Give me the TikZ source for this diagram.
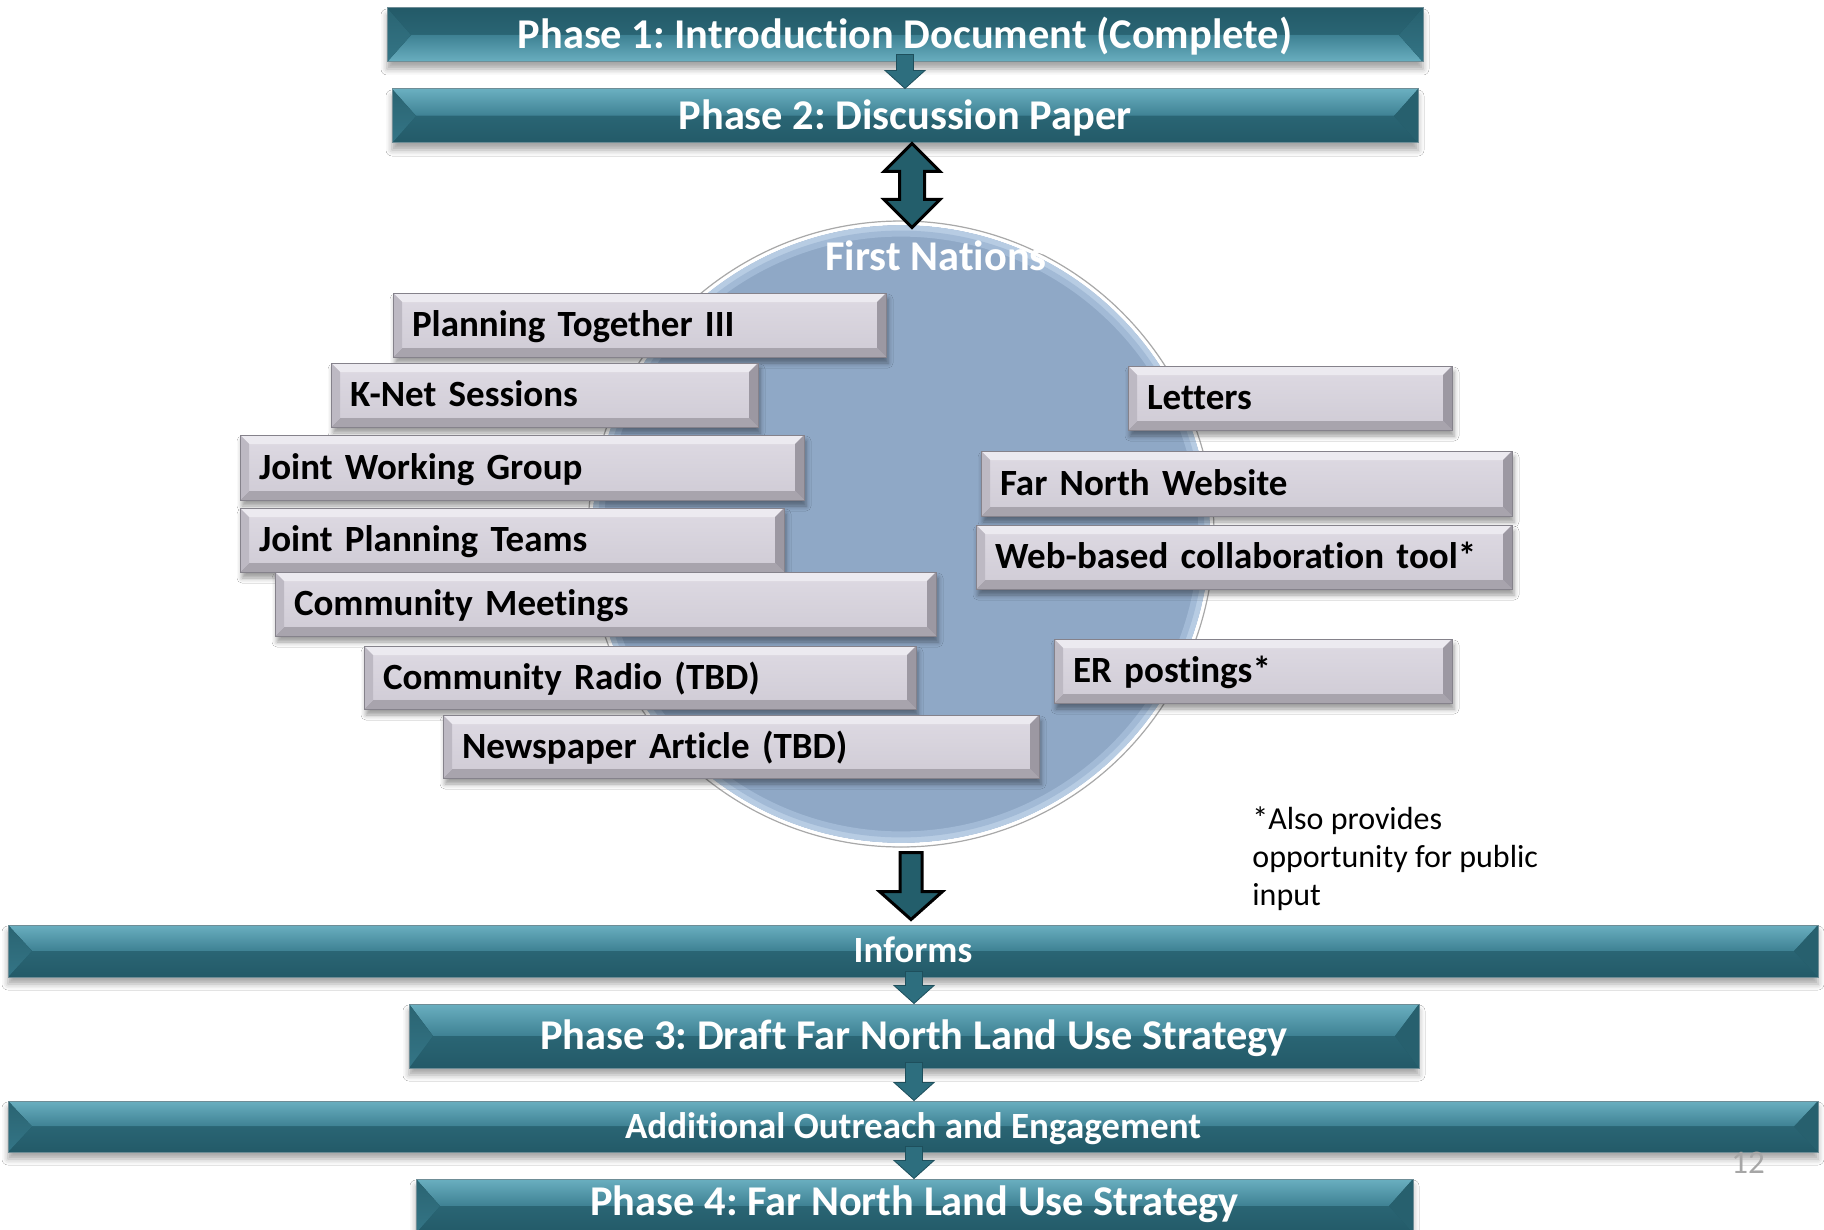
\documentclass[tikz,border=0pt]{standalone}
\usepackage{fontspec}
\setmainfont{Carlito}[Ligatures={NoCommon}]
\usetikzlibrary{calc,shadows.blur}
\frenchspacing
\definecolor{bnLight}{HTML}{6AAFC0}
\definecolor{bnMid}{HTML}{3E8193}
\definecolor{bnDark}{HTML}{235A68}
\definecolor{bnDark2}{HTML}{2A6574}
\definecolor{bnLeftTop}{HTML}{2A6472}
\definecolor{bnLeftBot}{HTML}{347586}
\definecolor{bnRight}{HTML}{27606E}
\definecolor{bnEdge}{HTML}{6F8D96}
\definecolor{gbFaceT}{HTML}{DEDAE3}
\definecolor{gbFaceB}{HTML}{CFCBD5}
\definecolor{gbTop}{HTML}{ECEAF0}
\definecolor{gbBot}{HTML}{A8A4AD}
\definecolor{gbLeft}{HTML}{BDB9C3}
\definecolor{gbRight}{HTML}{9C98A2}
\definecolor{gbEdge}{HTML}{85828B}
\definecolor{circMain}{HTML}{8FA8C6}
\definecolor{circLight}{HTML}{B7CCE3}
\definecolor{circMid}{HTML}{A2BAD6}
\definecolor{rimGray}{HTML}{A9A9A9}
\definecolor{arrowFill}{HTML}{235E6B}
\definecolor{smallArrow}{HTML}{2D6E7E}
\definecolor{smallArrowEdge}{HTML}{1E4F5C}
\definecolor{pageNum}{HTML}{A6A6A6}
\tikzset{
  phasefont/.style={font=\bfseries\frenchspacing\fontsize{21.2}{24}\selectfont, text height=16pt, text depth=2.35pt},
  midfont/.style={font=\bfseries\frenchspacing\fontsize{18.5}{20}\selectfont, text height=14pt, text depth=2.1pt},
  bannerbase/.style={rectangle, inner sep=0pt, text=white, fill=bnDark, draw=bnEdge, line width=0.5pt,
    blur shadow={shadow xshift=0pt, shadow yshift=-3.5pt, shadow blur radius=3pt, shadow opacity=35}},
  banner/.style={bannerbase, phasefont,
    path picture={
      \path (path picture bounding box.north west) coordinate (bNW)
            (path picture bounding box.north east) coordinate (bNE)
            (path picture bounding box.south west) coordinate (bSW)
            (path picture bounding box.south east) coordinate (bSE);
      \coordinate (bML) at ($(bNW)!.5!(bSW)+(12pt,0pt)$);
      \coordinate (bMR) at ($(bNE)!.5!(bSE)+(-12pt,0pt)$);
      \fill[top color=bnLight, bottom color=bnMid] (bNW) -- (bNE) -- (bMR) -- (bML) -- cycle;
      \fill[top color=bnDark2, bottom color=bnDark] (bSW) -- (bSE) -- (bMR) -- (bML) -- cycle;
      \fill[top color=bnLeftTop, bottom color=bnLeftBot] (bNW) -- (bML) -- (bSW) -- cycle;
      \fill[bnRight] (bNE) -- (bMR) -- (bSE) -- cycle;
    }},
  bannerF/.style={bannerbase, phasefont,
    path picture={
      \path (path picture bounding box.north west) coordinate (bNW)
            (path picture bounding box.north east) coordinate (bNE)
            (path picture bounding box.south west) coordinate (bSW)
            (path picture bounding box.south east) coordinate (bSE);
      \coordinate (bML) at ($(bNW)!.5!(bSW)+(12pt,0pt)$);
      \coordinate (bMR) at ($(bNE)!.5!(bSE)+(-12pt,0pt)$);
      \fill[top color=bnDark, bottom color=bnDark2] (bNW) -- (bNE) -- (bMR) -- (bML) -- cycle;
      \fill[top color=bnMid, bottom color=bnLight] (bSW) -- (bSE) -- (bMR) -- (bML) -- cycle;
      \fill[top color=bnLeftTop, bottom color=bnLeftBot] (bNW) -- (bML) -- (bSW) -- cycle;
      \fill[top color=bnRight, bottom color=bnLeftBot] (bNE) -- (bMR) -- (bSE) -- cycle;
    }},
  gbox/.style={rectangle, inner xsep=9.5pt, inner ysep=0pt, minimum height=32pt, align=left,
    text width=#1, midfont, text=black, top color=gbFaceT, bottom color=gbFaceB,
    draw=gbEdge, line width=0.5pt,
    blur shadow={shadow xshift=1pt, shadow yshift=-3pt, shadow blur radius=2.5pt, shadow opacity=40},
    path picture={
      \path (path picture bounding box.north west) coordinate (gNW)
            (path picture bounding box.north east) coordinate (gNE)
            (path picture bounding box.south west) coordinate (gSW)
            (path picture bounding box.south east) coordinate (gSE);
      \fill[gbTop] (gNW) -- (gNE) -- ($(gNE)+(-4.5pt,-4.5pt)$) -- ($(gNW)+(4.5pt,-4.5pt)$) -- cycle;
      \fill[gbBot] (gSW) -- (gSE) -- ($(gSE)+(-4.5pt,4.5pt)$) -- ($(gSW)+(4.5pt,4.5pt)$) -- cycle;
      \fill[gbLeft] (gNW) -- ($(gNW)+(4.5pt,-4.5pt)$) -- ($(gSW)+(4.5pt,4.5pt)$) -- (gSW) -- cycle;
      \fill[gbRight] (gNE) -- ($(gNE)+(-4.5pt,-4.5pt)$) -- ($(gSE)+(-4.5pt,4.5pt)$) -- (gSE) -- cycle;
    }},
  smallarrow/.style={fill=smallArrow, draw=smallArrowEdge, line width=0.4pt, line join=miter},
  blockarrow/.style={fill=arrowFill, draw=black, line width=1.5pt, line join=miter},
}
% small arrow: #1 upper start, #2 tip
\newcommand{\smallarr}[2]{%
  \path[smallarrow] let \p1=(#1), \p2=(#2) in
    (\x1-4.25pt,\y1) -- (\x1+4.25pt,\y1) -- (\x1+4.25pt,\y2+9pt) -- (\x1+10pt,\y2+9pt)
    -- (\x1,\y2) -- (\x1-10pt,\y2+9pt) -- (\x1-4.25pt,\y2+9pt) -- cycle;}
% double arrow: #1 top tip, #2 bottom tip
\newcommand{\dblarr}[2]{%
  \path[blockarrow] let \p1=(#1), \p2=(#2) in
    (\x1,\y1) -- (\x1+14pt,\y1-14pt) -- (\x1+6.25pt,\y1-14pt) -- (\x1+6.25pt,\y2+14pt)
    -- (\x1+14pt,\y2+14pt) -- (\x1,\y2) -- (\x1-14pt,\y2+14pt) -- (\x1-6.25pt,\y2+14pt)
    -- (\x1-6.25pt,\y1-14pt) -- (\x1-14pt,\y1-14pt) -- cycle;}
% block down arrow: #1 start, #2 tip
\newcommand{\downarr}[2]{%
  \path[blockarrow] let \p1=(#1), \p2=(#2) in
    (\x1-5.5pt,\y1) -- (\x1+5.5pt,\y1) -- (\x1+5.5pt,\y2+14pt) -- (\x1+15.75pt,\y2+14pt)
    -- (\x1,\y2) -- (\x1-15.75pt,\y2+14pt) -- (\x1-5.5pt,\y2+14pt) -- cycle;}
\begin{document}
\begin{tikzpicture}[x=0.5pt,y=-0.5pt]
\clip (0,0) rectangle (1824,1230);
\fill[white] (0,0) rectangle (1824,1230);

% circle
\node[circle, minimum size=313pt, inner sep=0pt, fill=circMain, draw=rimGray, line width=0.6pt,
  path picture={
    \draw[white, line width=2pt] (path picture bounding box.center) circle (155.4pt);
    \draw[circLight, line width=3pt] (path picture bounding box.center) circle (152.9pt);
    \draw[circMid, line width=3pt] (path picture bounding box.center) circle (150.2pt);
  }] (circ) at (901,534) {};
\node[phasefont, text=white] (fn) at (936,257) {First Nations};

% grey boxes
\node[gbox=227.5pt] (pt) at (639.5,325) {Planning Together III};
\node[gbox=194.5pt] (kn) at (544.5,395) {K-Net Sessions};
\node[gbox=263pt, minimum height=32.5pt] (jwg) at (522,467.5) {Joint Working Group};
\node[gbox=253pt] (jpt) at (512,540) {Joint Planning Teams};
\node[gbox=311.5pt] (cm) at (605.5,604) {Community Meetings};
\node[gbox=257pt, minimum height=31.5pt] (cr) at (640,677.5) {Community Radio (TBD)};
\node[gbox=279pt, minimum height=31.5pt] (na) at (741,746.5) {Newspaper Article (TBD)};
\node[gbox=143pt] (let) at (1290,398) {Letters};
\node[gbox=246.5pt, minimum height=32.5pt] (fnw) at (1246.5,483.5) {Far North Website};
\node[gbox=249pt] (web) at (1244,557) {Web-based collaboration tool*};
\node[gbox=180pt] (er) at (1253,671) {ER postings*};

% banners
\node[bannerF, minimum width=518pt, minimum height=27pt] (p1) at (905,35) {Phase 1: Introduction Document (Complete)};
\node[banner, minimum width=513pt, minimum height=27pt] (p2) at (905,116) {Phase 2: Discussion Paper};
\node[banner, midfont, minimum width=905pt, minimum height=26pt] (inf) at (913,951) {Informs};
\node[banner, minimum width=505pt, minimum height=32pt] (p3) at (914,1036) {Phase 3: Draft Far North Land Use Strategy};
\node[banner, midfont, minimum width=905pt, minimum height=25.5pt] (add) at (913,1126.5) {Additional Outreach and Engagement};
\node[banner, minimum width=498.5pt, minimum height=27pt, text depth=6.35pt] (p4) at (914.5,1206) {Phase 4: Far North Land Use Strategy};

% double arrow Phase 2 <-> First Nations
\dblarr{$(p2.south)+(7,0)$}{$(circ.north)+(11,7)$}

% small arrows between banners
\smallarr{$(p1.south)+(0,-8)$}{p2.north}
\smallarr{$(inf.south)+(1,-6)$}{p3.north}
\smallarr{$(p3.south)+(0,-6)$}{add.north}
\smallarr{$(add.south)+(1,-6)$}{p4.north}

% big down arrow
\downarr{$(circ.south)+(10,5)$}{$(inf.north)+(-2,-5)$}

% footnote
\node[anchor=north west, inner sep=0pt, align=left, font=\frenchspacing\fontsize{16}{19}\selectfont] (note) at (1252,806)
  {*Also provides\\opportunity for public\\input};
% page number
\node[text=pageNum, font=\fontsize{16.5}{18}\selectfont] (pg) at (1748,1163) {12};
\end{tikzpicture}
\end{document}
